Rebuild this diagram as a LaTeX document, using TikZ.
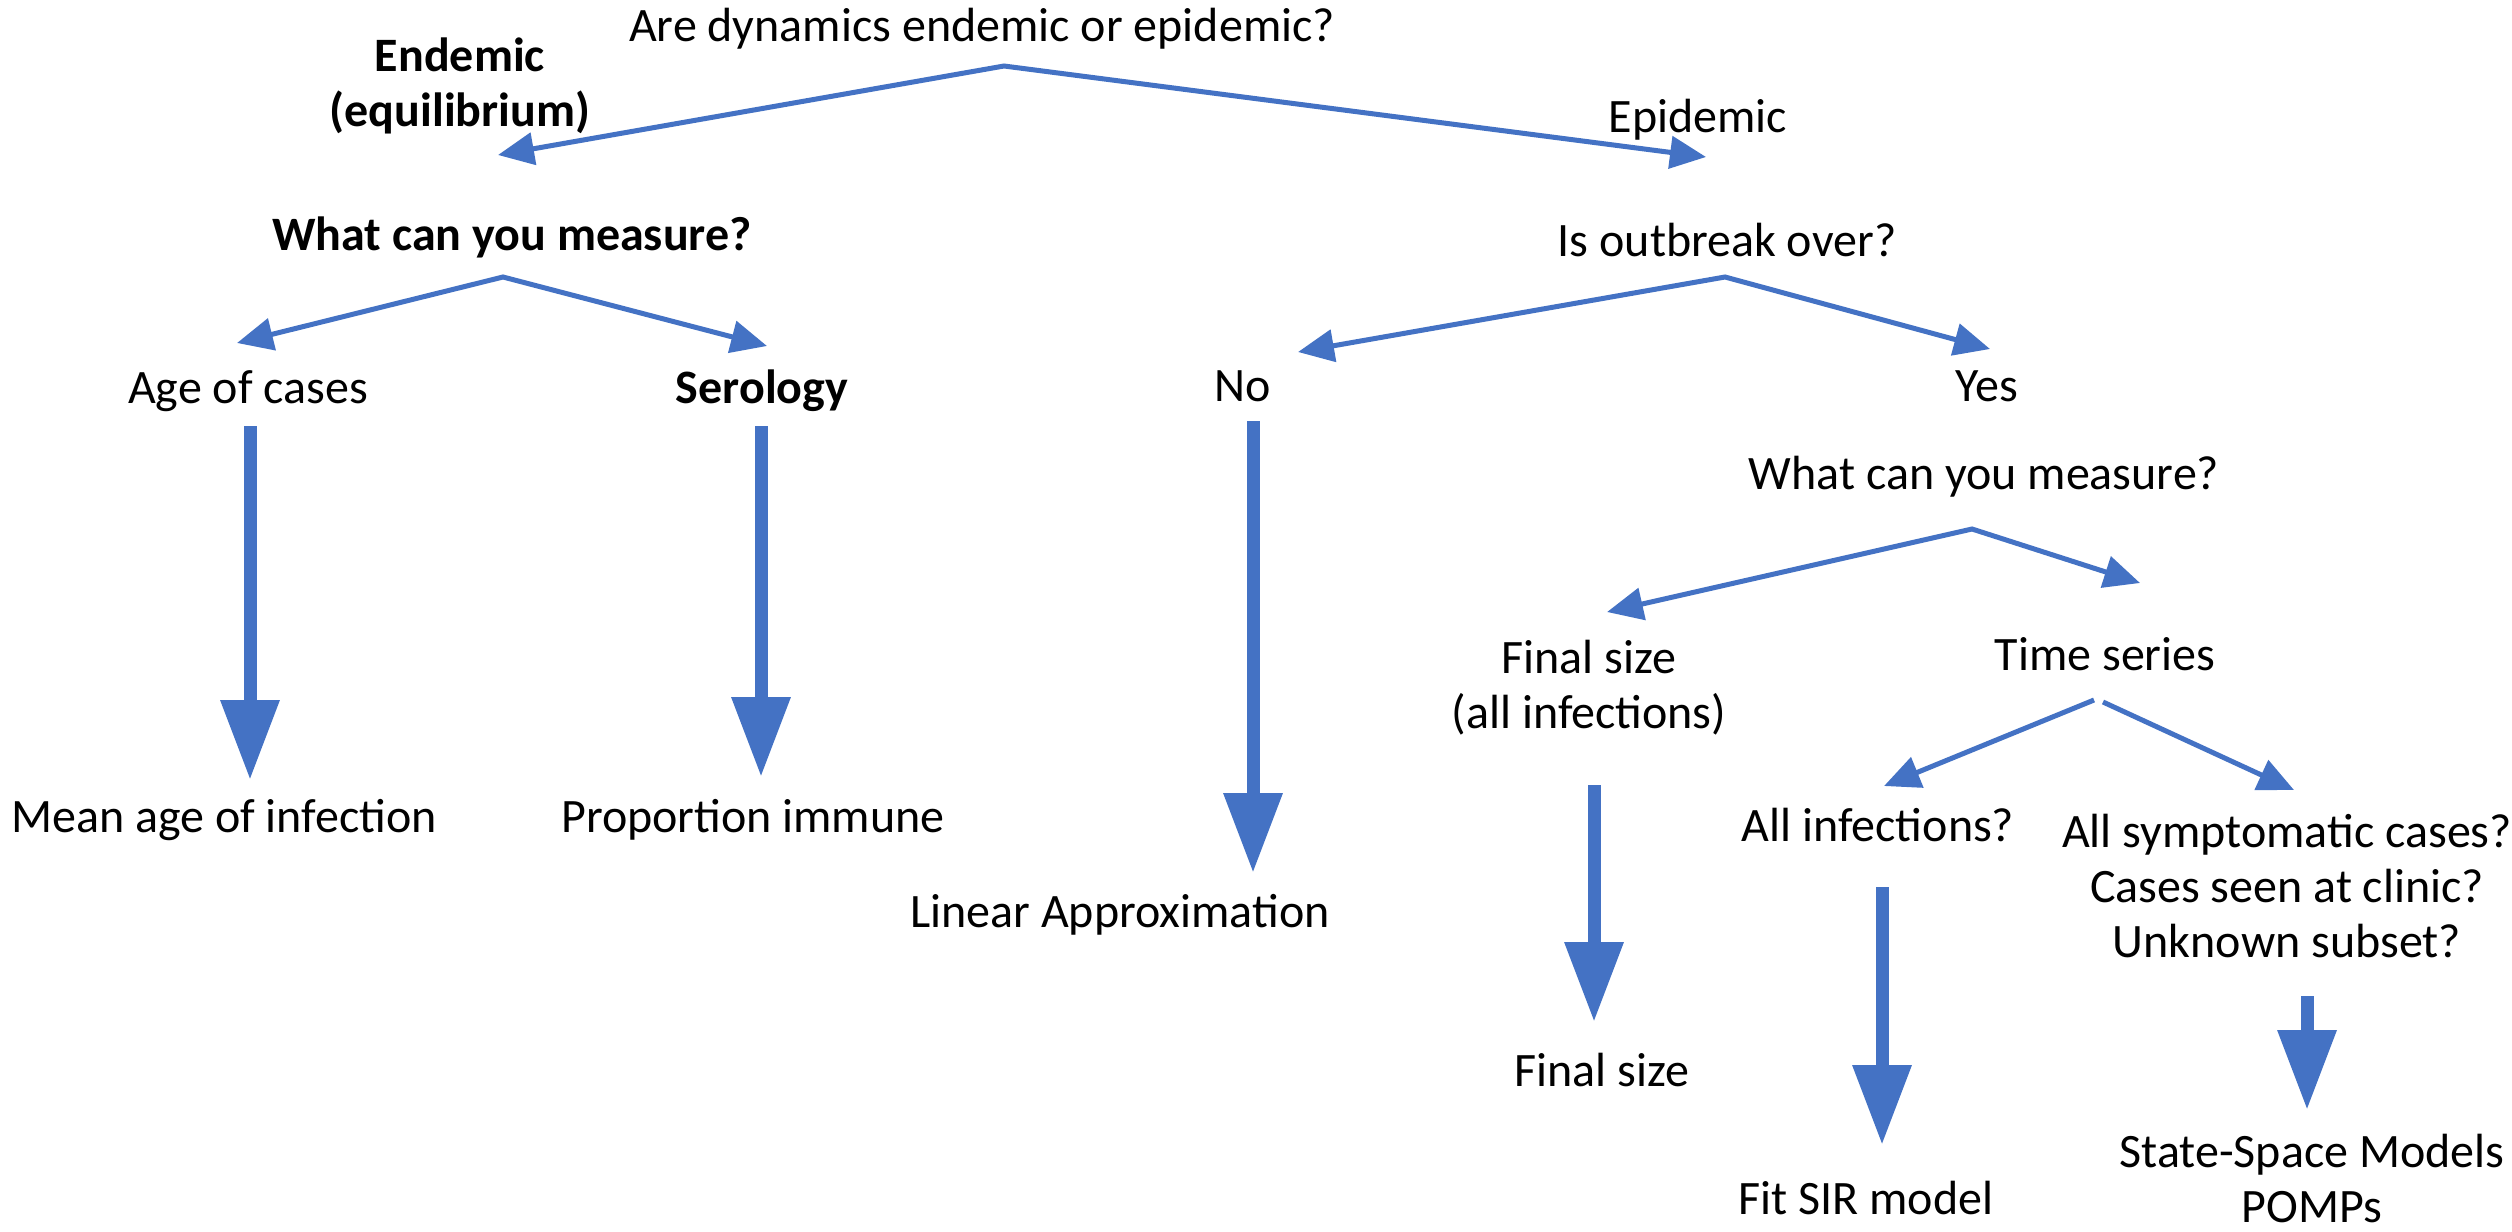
\documentclass[tikz,border=0pt]{standalone}
\usepackage{fontspec}
\setmainfont{Carlito}
\usetikzlibrary{arrows.meta}
\definecolor{arrblue}{HTML}{4472C4}
\begin{document}
\begin{tikzpicture}[x=0.25pt,y=-0.25pt,
  lbl/.style={inner sep=0pt, font=\fontsize{12}{13.75}\selectfont, align=center},
  bl/.style={lbl, font=\fontsize{12}{13.75}\selectfont\bfseries},
  tip/.tip={Triangle[length=9pt,width=8pt]},
  branch/.style={draw=arrblue, fill=none, line width=1.25pt, tip-tip},
  onebranch/.style={draw=arrblue, line width=1.25pt, -tip},
  bigarrow/.style={draw=arrblue, line width=3.25pt, -{Triangle[length=20pt,width=14pt]}}]
\useasboundingbox (0,0) rectangle (2512,1231);
\fill[white] (0,0) rectangle (2512,1231);

\node[lbl] (q0) at (982,29) {Are dynamics endemic or epidemic?};
\node[bl] (endem) at (460,86) {Endemic\\(equilibrium)};
\node[lbl] (epid) at (1698,120) {Epidemic};
\node[bl] (meas1) at (512,237) {What can you measure?};
\node[lbl] (over) at (1727,240) {Is outbreak over?};
\node[lbl] (age) at (248,391) {Age of cases};
\node[bl] (sero) at (762,391) {Serology};
\node[lbl] (no) at (1243,386) {No};
\node[lbl] (yes) at (1987,386) {Yes};
\node[lbl] (meas2) at (1984,477) {What can you measure?};
\node[lbl] (fsq) at (1589,688) {Final size\\(all infections)};
\node[lbl] (ts) at (2105,654) {Time series};
\node[lbl] (mean) at (224,820) {Mean age of infection};
\node[lbl] (prop) at (753,820) {Proportion immune};
\node[lbl] (lin) at (1120,915) {Linear Approximation};
\node[lbl] (allinf) at (1878,825) {All infections?};
\node[lbl] (sympt) at (2287,886) {All symptomatic cases?\\Cases seen at clinic?\\Unknown subset?};
\node[lbl] (fs) at (1602,1070) {Final size};
\node[lbl] (sir) at (1866,1198) {Fit SIR model};
\node[lbl] (ssm) at (2312,1178) {State-Space Models\\POMPs};

% branch points and tips
\coordinate (q0apex) at (1004,66);
\coordinate (endemtip) at (498,155);
\coordinate (epidtip) at (1706,157);
\coordinate (m1apex) at (503,277);
\coordinate (agetip) at (237,343);
\coordinate (serotip) at (767,346);
\coordinate (overapex) at (1725,277);
\coordinate (notip) at (1298,352);
\coordinate (yestip) at (1990,349);
\coordinate (m2apex) at (1972,529);
\coordinate (fsqtip) at (1607,612);
\coordinate (tstip) at (2140,583);
\coordinate (tsL) at (2094,700);
\coordinate (allinftip) at (1884,786);
\coordinate (tsR) at (2103,702);
\coordinate (sympttip) at (2294,790);

\draw[branch] (endemtip) -- (q0apex) -- (epidtip);
\draw[branch] (agetip) -- (m1apex) -- (serotip);
\draw[branch] (notip) -- (overapex) -- (yestip);
\draw[branch] (fsqtip) -- (m2apex) -- (tstip);
\draw[onebranch] (tsL) -- (allinftip);
\draw[onebranch] (tsR) -- (sympttip);

% thick arrows
\coordinate (ageS) at (250,426);   \coordinate (ageE) at (250,780);
\coordinate (seroS) at (761,426);  \coordinate (seroE) at (761,777);
\coordinate (noS) at (1253,421);   \coordinate (noE) at (1253,873);
\coordinate (fsqS) at (1594,785);  \coordinate (fsqE) at (1594,1022);
\coordinate (allS) at (1882,887);  \coordinate (allE) at (1882,1145);
\coordinate (symS) at (2307,996);  \coordinate (symE) at (2307,1110);
\draw[bigarrow] (ageS) -- (ageE);
\draw[bigarrow] (seroS) -- (seroE);
\draw[bigarrow] (noS) -- (noE);
\draw[bigarrow] (fsqS) -- (fsqE);
\draw[bigarrow] (allS) -- (allE);
\draw[bigarrow] (symS) -- (symE);
\end{tikzpicture}
\end{document}
